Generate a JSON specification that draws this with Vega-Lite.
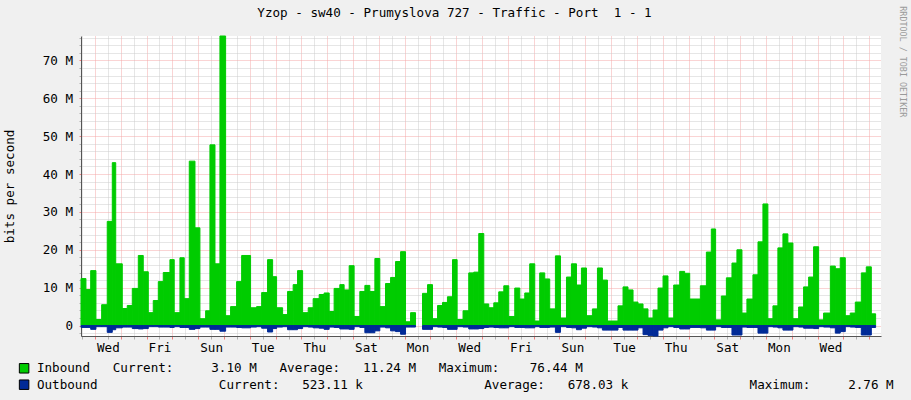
{
  "$schema": "https://vega.github.io/schema/vega-lite/v6.json",
  "width": 800,
  "height": 300,
  "autosize": {"type": "none"},
  "padding": {"left": 81, "top": 36, "right": 30, "bottom": 64},
  "background": "#F0F0F0",
  "config": {"font": "DejaVu Sans Mono", "view": {"fill": "#FFFFFF", "stroke": null}},
  "title": {"text": "Yzop - sw40 - Prumyslova 727 - Traffic - Port\u00a0\u00a01 - 1", "anchor": "middle", "frame": "group", "dx": -26.5, "offset": -14, "fontSize": 12.6, "fontWeight": "normal", "color": "#000000", "font": "DejaVu Sans Mono"},
  "data": {"values": [
    {"h0":11.0,"h1":15.6,"Inbound":12.4,"Outbound":-0.5},
    {"h0":15.6,"h1":20.0,"Inbound":9.5,"Outbound":-0.5},
    {"h0":20.0,"h1":24.9,"Inbound":14.5,"Outbound":-1.0},
    {"h0":24.9,"h1":30.2,"Inbound":1.6,"Outbound":-0.3},
    {"h0":30.2,"h1":35.4,"Inbound":5.5,"Outbound":-0.3},
    {"h0":35.4,"h1":40.1,"Inbound":27.5,"Outbound":-1.8},
    {"h0":40.1,"h1":43.3,"Inbound":43.0,"Outbound":-1.1},
    {"h0":43.3,"h1":49.4,"Inbound":16.3,"Outbound":-0.6},
    {"h0":49.4,"h1":54.0,"Inbound":4.5,"Outbound":-0.4},
    {"h0":54.0,"h1":58.7,"Inbound":5.3,"Outbound":-0.4},
    {"h0":58.7,"h1":64.3,"Inbound":9.8,"Outbound":-0.8},
    {"h0":64.3,"h1":68.9,"Inbound":18.5,"Outbound":-0.9},
    {"h0":68.9,"h1":73.6,"Inbound":14.2,"Outbound":-0.8},
    {"h0":73.6,"h1":78.2,"Inbound":3.4,"Outbound":-0.3},
    {"h0":78.2,"h1":82.9,"Inbound":6.6,"Outbound":-0.3},
    {"h0":82.9,"h1":87.5,"Inbound":11.6,"Outbound":-0.4},
    {"h0":87.5,"h1":93.7,"Inbound":14.0,"Outbound":-0.4},
    {"h0":93.7,"h1":97.7,"Inbound":17.4,"Outbound":-0.5},
    {"h0":97.7,"h1":103.0,"Inbound":3.4,"Outbound":-0.3},
    {"h0":103.0,"h1":107.0,"Inbound":17.9,"Outbound":-0.5},
    {"h0":107.0,"h1":111.7,"Inbound":7.1,"Outbound":-0.5},
    {"h0":111.7,"h1":117.0,"Inbound":43.4,"Outbound":-1.0},
    {"h0":117.0,"h1":121.6,"Inbound":25.8,"Outbound":-0.8},
    {"h0":121.6,"h1":126.9,"Inbound":1.8,"Outbound":-0.4},
    {"h0":126.9,"h1":130.9,"Inbound":3.9,"Outbound":-0.4},
    {"h0":130.9,"h1":135.6,"Inbound":47.7,"Outbound":-1.0},
    {"h0":135.6,"h1":140.2,"Inbound":16.3,"Outbound":-1.0},
    {"h0":140.2,"h1":145.5,"Inbound":76.44,"Outbound":-1.5},
    {"h0":145.5,"h1":150.1,"Inbound":2.6,"Outbound":-0.4},
    {"h0":150.1,"h1":155.7,"Inbound":5.0,"Outbound":-0.4},
    {"h0":155.7,"h1":160.4,"Inbound":11.6,"Outbound":-0.5},
    {"h0":160.4,"h1":168.7,"Inbound":18.5,"Outbound":-0.6},
    {"h0":168.7,"h1":174.3,"Inbound":4.7,"Outbound":-0.4},
    {"h0":174.3,"h1":179.0,"Inbound":5.0,"Outbound":-0.3},
    {"h0":179.0,"h1":184.5,"Inbound":8.7,"Outbound":-0.7},
    {"h0":184.5,"h1":189.2,"Inbound":17.4,"Outbound":-1.7},
    {"h0":189.2,"h1":192.9,"Inbound":12.9,"Outbound":-0.8},
    {"h0":192.9,"h1":198.5,"Inbound":4.7,"Outbound":-0.4},
    {"h0":198.5,"h1":203.1,"Inbound":2.9,"Outbound":-0.3},
    {"h0":203.1,"h1":208.3,"Inbound":9.0,"Outbound":-1.1},
    {"h0":208.3,"h1":212.4,"Inbound":10.8,"Outbound":-1.1},
    {"h0":212.4,"h1":217.1,"Inbound":14.5,"Outbound":-0.8},
    {"h0":217.1,"h1":222.3,"Inbound":3.4,"Outbound":-0.3},
    {"h0":222.3,"h1":226.9,"Inbound":4.7,"Outbound":-0.4},
    {"h0":226.9,"h1":232.5,"Inbound":7.1,"Outbound":-0.6},
    {"h0":232.5,"h1":237.1,"Inbound":8.2,"Outbound":-0.7},
    {"h0":237.1,"h1":241.8,"Inbound":8.6,"Outbound":-1.0},
    {"h0":241.8,"h1":246.4,"Inbound":3.7,"Outbound":-0.4},
    {"h0":246.4,"h1":251.7,"Inbound":9.8,"Outbound":-0.5},
    {"h0":251.7,"h1":255.7,"Inbound":10.8,"Outbound":-0.9},
    {"h0":255.7,"h1":260.4,"Inbound":9.4,"Outbound":-0.9},
    {"h0":260.4,"h1":265.0,"Inbound":15.8,"Outbound":-1.0},
    {"h0":265.0,"h1":270.3,"Inbound":2.4,"Outbound":-0.3},
    {"h0":270.3,"h1":275.0,"Inbound":9.0,"Outbound":-0.5},
    {"h0":275.0,"h1":279.6,"Inbound":10.6,"Outbound":-1.9},
    {"h0":279.6,"h1":284.3,"Inbound":9.0,"Outbound":-1.9},
    {"h0":284.3,"h1":288.9,"Inbound":17.7,"Outbound":-1.4},
    {"h0":288.9,"h1":294.2,"Inbound":5.0,"Outbound":-0.4},
    {"h0":294.2,"h1":298.9,"Inbound":11.1,"Outbound":-0.6},
    {"h0":298.9,"h1":303.5,"Inbound":12.7,"Outbound":-1.4},
    {"h0":303.5,"h1":308.2,"Inbound":16.9,"Outbound":-1.6},
    {"h0":308.2,"h1":312.8,"Inbound":19.5,"Outbound":-2.3},
    {"h0":312.8,"h1":317.5,"Inbound":1.0,"Outbound":-0.4},
    {"h0":317.5,"h1":322.1,"Inbound":3.4,"Outbound":-0.4},
    {"h0":328.6,"h1":333.3,"Inbound":8.5,"Outbound":-1.0},
    {"h0":333.3,"h1":337.9,"Inbound":10.8,"Outbound":-1.0},
    {"h0":337.9,"h1":342.6,"Inbound":1.8,"Outbound":-0.3},
    {"h0":342.6,"h1":347.2,"Inbound":5.3,"Outbound":-0.4},
    {"h0":347.2,"h1":351.8,"Inbound":6.1,"Outbound":-0.5},
    {"h0":351.8,"h1":356.5,"Inbound":7.6,"Outbound":-1.0},
    {"h0":356.5,"h1":360.8,"Inbound":17.4,"Outbound":-1.0},
    {"h0":360.8,"h1":366.3,"Inbound":1.6,"Outbound":-0.3},
    {"h0":366.3,"h1":371.6,"Inbound":3.9,"Outbound":-0.4},
    {"h0":371.6,"h1":376.3,"Inbound":13.9,"Outbound":-0.9},
    {"h0":376.3,"h1":380.9,"Inbound":14.1,"Outbound":-0.9},
    {"h0":380.9,"h1":385.6,"Inbound":24.3,"Outbound":-0.8},
    {"h0":385.6,"h1":390.2,"Inbound":5.7,"Outbound":-0.5},
    {"h0":390.2,"h1":394.9,"Inbound":4.7,"Outbound":-0.4},
    {"h0":394.9,"h1":399.5,"Inbound":6.0,"Outbound":-0.5},
    {"h0":399.5,"h1":404.2,"Inbound":8.9,"Outbound":-0.6},
    {"h0":404.2,"h1":408.8,"Inbound":10.5,"Outbound":-0.6},
    {"h0":408.8,"h1":414.4,"Inbound":2.4,"Outbound":-0.3},
    {"h0":414.4,"h1":419.1,"Inbound":9.9,"Outbound":-0.5},
    {"h0":419.1,"h1":423.7,"Inbound":7.0,"Outbound":-0.5},
    {"h0":423.7,"h1":428.3,"Inbound":8.6,"Outbound":-0.6},
    {"h0":428.3,"h1":433.0,"Inbound":16.3,"Outbound":-0.6},
    {"h0":433.0,"h1":437.6,"Inbound":1.2,"Outbound":-0.3},
    {"h0":437.6,"h1":442.3,"Inbound":13.9,"Outbound":-0.5},
    {"h0":442.3,"h1":446.9,"Inbound":12.3,"Outbound":-0.5},
    {"h0":446.9,"h1":452.2,"Inbound":4.4,"Outbound":-0.4},
    {"h0":452.2,"h1":456.9,"Inbound":18.4,"Outbound":-1.8},
    {"h0":456.9,"h1":462.5,"Inbound":2.0,"Outbound":-0.3},
    {"h0":462.5,"h1":467.1,"Inbound":12.8,"Outbound":-0.5},
    {"h0":467.1,"h1":471.8,"Inbound":16.3,"Outbound":-0.6},
    {"h0":471.8,"h1":476.4,"Inbound":10.7,"Outbound":-1.1},
    {"h0":476.4,"h1":481.1,"Inbound":15.2,"Outbound":-0.7},
    {"h0":481.1,"h1":486.6,"Inbound":2.6,"Outbound":-0.3},
    {"h0":486.6,"h1":491.3,"Inbound":4.4,"Outbound":-0.4},
    {"h0":491.3,"h1":495.9,"Inbound":15.2,"Outbound":-0.6},
    {"h0":495.9,"h1":500.6,"Inbound":12.0,"Outbound":-1.2},
    {"h0":500.6,"h1":510.4,"Inbound":1.2,"Outbound":-1.2},
    {"h0":510.4,"h1":515.1,"Inbound":5.2,"Outbound":-0.5},
    {"h0":515.1,"h1":519.7,"Inbound":10.2,"Outbound":-1.2},
    {"h0":519.7,"h1":524.4,"Inbound":9.4,"Outbound":-1.2},
    {"h0":524.4,"h1":529.0,"Inbound":6.2,"Outbound":-1.2},
    {"h0":529.0,"h1":533.7,"Inbound":5.7,"Outbound":-0.6},
    {"h0":533.7,"h1":538.3,"Inbound":4.4,"Outbound":-2.4},
    {"h0":538.3,"h1":543.0,"Inbound":2.0,"Outbound":-2.6},
    {"h0":543.0,"h1":547.6,"Inbound":4.1,"Outbound":-2.76},
    {"h0":547.6,"h1":552.3,"Inbound":9.9,"Outbound":-1.2},
    {"h0":552.3,"h1":556.9,"Inbound":13.1,"Outbound":-0.6},
    {"h0":556.9,"h1":562.2,"Inbound":2.0,"Outbound":-0.3},
    {"h0":562.2,"h1":567.8,"Inbound":10.7,"Outbound":-0.5},
    {"h0":567.8,"h1":572.4,"Inbound":14.3,"Outbound":-0.9},
    {"h0":572.4,"h1":577.1,"Inbound":13.8,"Outbound":-0.9},
    {"h0":577.1,"h1":587.0,"Inbound":7.0,"Outbound":-0.5},
    {"h0":587.0,"h1":592.6,"Inbound":10.5,"Outbound":-0.6},
    {"h0":592.6,"h1":597.2,"Inbound":19.4,"Outbound":-1.2},
    {"h0":597.2,"h1":601.2,"Inbound":25.5,"Outbound":-1.2},
    {"h0":601.2,"h1":606.5,"Inbound":1.5,"Outbound":-0.3},
    {"h0":606.5,"h1":611.2,"Inbound":7.8,"Outbound":-0.5},
    {"h0":611.2,"h1":616.4,"Inbound":12.6,"Outbound":-0.5},
    {"h0":616.4,"h1":621.0,"Inbound":16.5,"Outbound":-2.5},
    {"h0":621.0,"h1":625.7,"Inbound":20.0,"Outbound":-2.5},
    {"h0":625.7,"h1":630.3,"Inbound":3.3,"Outbound":-0.4},
    {"h0":630.3,"h1":635.9,"Inbound":7.0,"Outbound":-0.5},
    {"h0":635.9,"h1":640.6,"Inbound":13.4,"Outbound":-0.5},
    {"h0":640.6,"h1":645.2,"Inbound":22.1,"Outbound":-2.0},
    {"h0":645.2,"h1":649.8,"Inbound":32.1,"Outbound":-2.0},
    {"h0":649.8,"h1":654.5,"Inbound":1.8,"Outbound":-0.3},
    {"h0":654.5,"h1":659.1,"Inbound":5.2,"Outbound":-0.4},
    {"h0":659.1,"h1":663.8,"Inbound":20.5,"Outbound":-0.6},
    {"h0":663.8,"h1":668.4,"Inbound":24.2,"Outbound":-1.2},
    {"h0":668.4,"h1":673.1,"Inbound":21.8,"Outbound":-1.2},
    {"h0":673.1,"h1":678.4,"Inbound":1.8,"Outbound":-0.3},
    {"h0":678.4,"h1":683.0,"Inbound":4.9,"Outbound":-0.4},
    {"h0":683.0,"h1":687.7,"Inbound":10.2,"Outbound":-0.7},
    {"h0":687.7,"h1":692.3,"Inbound":12.8,"Outbound":-0.7},
    {"h0":692.3,"h1":697.0,"Inbound":20.8,"Outbound":-0.8},
    {"h0":697.0,"h1":701.6,"Inbound":1.5,"Outbound":-0.3},
    {"h0":701.6,"h1":707.9,"Inbound":3.3,"Outbound":-0.4},
    {"h0":707.9,"h1":712.5,"Inbound":15.7,"Outbound":-0.6},
    {"h0":712.5,"h1":717.1,"Inbound":15.0,"Outbound":-2.0},
    {"h0":717.1,"h1":721.8,"Inbound":17.9,"Outbound":-1.6},
    {"h0":721.8,"h1":726.4,"Inbound":2.6,"Outbound":-0.3},
    {"h0":726.4,"h1":731.1,"Inbound":3.3,"Outbound":-0.4},
    {"h0":731.1,"h1":736.7,"Inbound":6.2,"Outbound":-0.5},
    {"h0":736.7,"h1":741.3,"Inbound":13.9,"Outbound":-2.5},
    {"h0":741.3,"h1":746.0,"Inbound":15.5,"Outbound":-2.5},
    {"h0":746.0,"h1":750.0,"Inbound":3.1,"Outbound":-0.52}
  ]},
  "encoding": {
    "x": {
      "field": "h0", "type": "quantitative",
      "scale": {"domain": [11, 755], "nice": false, "zero": false},
      "axis": {
        "title": null,
        "values": [12,24,36,48,60,72,84,96,108,120,132,144,156,168,180,192,204,216,228,240,252,264,276,288,300,312,324,336,348,360,372,384,396,408,420,432,444,456,468,480,492,504,516,528,540,552,564,576,588,600,612,624,636,648,660,672,684,696,708,720,732,744],
        "grid": true,
        "gridColor": {"condition": {"test": "datum.value % 24 === 0", "value": "#F5A8A8"}, "value": "#CDCDCD"},
        "gridDash": [1, 1],
        "gridWidth": 1,
        "tickColor": {"condition": {"test": "datum.value % 24 === 0", "value": "#F08080"}, "value": "#B0B0B0"},
        "tickSize": 3,
        "domainColor": "#555555",
        "labelExpr": "datum.value % 48 === 36 ? ['Tue','Wed','Thu','Fri','Sat','Sun','Mon'][floor(datum.value / 24) % 7] : ''",
        "labelFont": "DejaVu Sans Mono",
        "labelFontSize": 12.6,
        "labelColor": "#000000",
        "labelPadding": 2,
        "labelFlush": false,
        "labelOverlap": false,
        "labelBound": false
      }
    },
    "x2": {"field": "h1"}
  },
  "layer": [
    {
      "mark": {"type": "rect", "stroke": "#00CC00", "strokeWidth": 1},
      "encoding": {
        "y": {
          "field": "Inbound", "type": "quantitative",
          "scale": {"domain": [-2.76, 76.44], "nice": false, "zero": false},
          "axis": {
            "title": "bits per second",
            "titleFont": "DejaVu Sans Mono",
            "titleFontSize": 12.6,
            "titleFontWeight": "normal",
            "titleColor": "#000000",
            "titleBaseline": "alphabetic",
            "titlePadding": 29,
            "values": [-2,0,2,4,6,8,10,12,14,16,18,20,22,24,26,28,30,32,34,36,38,40,42,44,46,48,50,52,54,56,58,60,62,64,66,68,70,72,74,76],
            "grid": true,
            "gridColor": {"condition": {"test": "datum.value % 10 === 0", "value": "#F5A8A8"}, "value": "#CDCDCD"},
            "gridDash": [1, 1],
            "gridWidth": 1,
            "tickColor": {"condition": {"test": "datum.value % 10 === 0", "value": "#F08080"}, "value": "#B0B0B0"},
            "tickSize": 2,
            "domainColor": "#555555",
            "labelExpr": "datum.value % 10 === 0 ? (datum.value === 0 ? '0' : datum.value + ' M') : ''",
            "labelFont": "DejaVu Sans Mono",
            "labelFontSize": 12.6,
            "labelColor": "#000000",
            "labelPadding": 6.5,
            "labelFlush": false,
            "labelOverlap": false
          }
        },
        "y2": {"datum": 0},
        "color": {
          "datum": "Inbound",
          "scale": {"domain": ["Inbound", "Outbound"], "range": ["#00CC00", "#002A97"]},
          "legend": {
            "orient": "none",
            "legendX": -63.2,
            "legendY": 326,
            "title": null,
            "direction": "vertical",
            "padding": 0,
            "symbolType": "square",
            "symbolSize": 90,
            "symbolStrokeColor": "#000000",
            "symbolStrokeWidth": 1,
            "symbolOpacity": 1,
            "labelFont": "DejaVu Sans Mono",
            "labelFontSize": 12.6,
            "labelColor": "#000000",
            "labelLimit": 2000,
            "labelOffset": 6.5,
            "rowPadding": 1.4,
            "encode": {"symbols": {"update": {"stroke": {"value": "#000000"}, "strokeWidth": {"value": 1}}}},
            "labelExpr": "datum.label === 'Inbound' ? 'Inbound\u00a0\u00a0\u00a0Current:\u00a0\u00a0\u00a0\u00a0\u00a03.10\u00a0M\u00a0\u00a0\u00a0Average:\u00a0\u00a0\u00a011.24\u00a0M\u00a0\u00a0\u00a0Maximum:\u00a0\u00a0\u00a0\u00a076.44\u00a0M' : 'Outbound\u00a0\u00a0\u00a0\u00a0\u00a0\u00a0\u00a0\u00a0\u00a0\u00a0\u00a0\u00a0\u00a0\u00a0\u00a0\u00a0Current:\u00a0\u00a0\u00a0523.11\u00a0k\u00a0\u00a0\u00a0\u00a0\u00a0\u00a0\u00a0\u00a0\u00a0\u00a0\u00a0\u00a0\u00a0\u00a0\u00a0\u00a0Average:\u00a0\u00a0\u00a0678.03\u00a0k\u00a0\u00a0\u00a0\u00a0\u00a0\u00a0\u00a0\u00a0\u00a0\u00a0\u00a0\u00a0\u00a0\u00a0\u00a0\u00a0Maximum:\u00a0\u00a0\u00a0\u00a0\u00a02.76\u00a0M'"
          }
        }
      }
    },
    {
      "mark": {"type": "rect", "stroke": "#002A97", "strokeWidth": 1},
      "encoding": {
        "y": {
          "field": "Outbound", "type": "quantitative",
          "axis": {
            "orient": "right",
            "title": "RRDTOOL / TOBI OETIKER",
            "titleFont": "DejaVu Sans Mono",
            "titleFontSize": 8.4,
            "titleFontWeight": "normal",
            "titleColor": "#9A9A9A",
            "titleAngle": 90,
            "titleAlign": "center",
            "titleBaseline": "middle",
            "titleX": 21.5,
            "titleY": 25.3,
            "labels": false,
            "ticks": false,
            "domain": false,
            "grid": false
          }
        },
        "y2": {"datum": 0},
        "color": {"datum": "Outbound"}
      }
    }
  ],
  "resolve": {"axis": {"y": "independent"}}
}
